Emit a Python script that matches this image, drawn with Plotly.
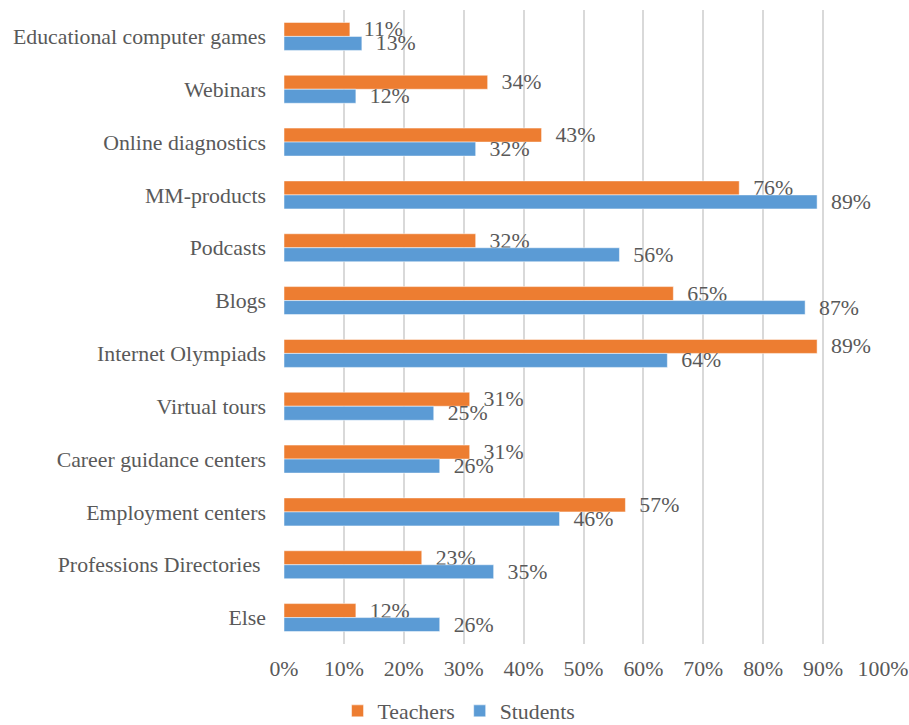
import plotly.graph_objects as go

categories = [
    "Educational computer games",
    "Webinars",
    "Online diagnostics",
    "MM-products",
    "Podcasts",
    "Blogs",
    "Internet Olympiads",
    "Virtual tours",
    "Career guidance centers",
    "Employment centers",
    "Professions Directories\u00a0",
    "Else",
]
teachers = [11, 34, 43, 76, 32, 65, 89, 31, 31, 57, 23, 12]
students = [13, 12, 32, 89, 56, 87, 64, 25, 26, 46, 35, 26]
tick_vals = [0, 10, 20, 30, 40, 50, 60, 70, 80, 90, 100]
tick_text = ["0%", "10%", "20%", "30%", "40%", "50%", "60%", "70%", "80%", "90%", "100%"]

FONT = "Liberation Serif"
GREY = "#595959"
FS = 21.8

fig = go.Figure()
for name, vals, color in [("Teachers", teachers, "#ED7D31"), ("Students", students, "#5B9BD5")]:
    fig.add_trace(go.Bar(
        name=name,
        y=categories,
        x=vals,
        orientation="h",
        marker=dict(color=color, line=dict(color="white", width=0.5)),
        text=[f"\u00a0\u00a0{v}%" for v in vals],
        textposition="outside",
        constraintext="none",
        cliponaxis=False,
        textfont=dict(family=FONT, size=FS, color=GREY),
        hoverinfo="skip",
    ))

fig.update_layout(
    width=909,
    height=725,
    barmode="group",
    bargap=0.47,
    bargroupgap=0,
    paper_bgcolor="white",
    plot_bgcolor="white",
    margin=dict(l=283.5, r=25.5, t=9.5, b=80.5, autoexpand=False),
    font=dict(family=FONT, size=FS, color=GREY),
    xaxis=dict(
        range=[0, 100],
        tickvals=tick_vals,
        ticktext=tick_text,
        showgrid=True,
        gridcolor="#D9D9D9",
        gridwidth=2,
        zeroline=False,
        showline=False,
        ticks="",
        ticklabelstandoff=9,
        automargin=False,
        tickfont=dict(family=FONT, size=FS, color=GREY),
        fixedrange=True,
    ),
    yaxis=dict(
        categoryorder="array",
        categoryarray=categories,
        autorange="reversed",
        showgrid=False,
        zeroline=False,
        showline=False,
        ticks="",
        ticklabelstandoff=17,
        automargin=False,
        tickfont=dict(family=FONT, size=FS, color=GREY),
        fixedrange=True,
    ),
    legend=dict(
        orientation="h",
        xref="container",
        yref="paper",
        x=0.505,
        xanchor="center",
        y=-0.106,
        yanchor="middle",
        font=dict(family=FONT, size=FS, color=GREY),
        itemwidth=30,
        tracegroupgap=0,
        traceorder="normal",
    ),
    showlegend=True,
)

fig.write_html("out.html")
